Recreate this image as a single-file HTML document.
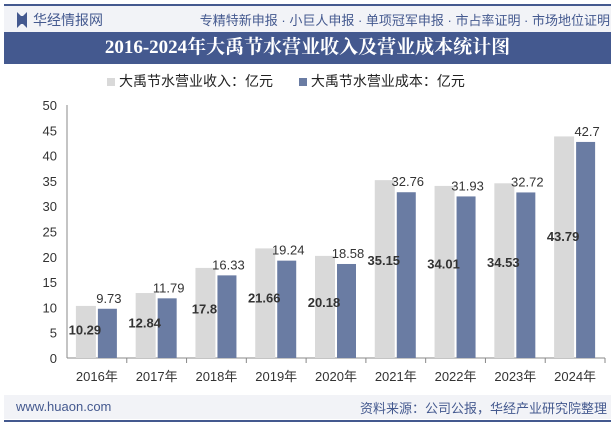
<!DOCTYPE html>
<html><head><meta charset="utf-8"><style>
body{margin:0;width:615px;height:427px;background:#fff;font-family:"Liberation Sans","Noto Sans CJK SC",sans-serif;overflow:hidden;position:relative}
.abs{position:absolute}
</style></head><body>
<div class="abs" style="left:4px;top:4px;width:607px;height:2px;background:#44598f"></div>
<div class="abs" style="left:4px;top:6px;width:607px;height:26px;background:#f2f3f7"></div>
<div class="abs" style="left:17px;top:12px;width:10px;height:16px;background:#44598f;clip-path:polygon(0 0,40% 25%,60% 25%,100% 0,100% 100%,60% 75%,40% 75%,0 100%)"></div>
<div class="abs" style="left:33px;top:10px;font-size:14px;color:#44598f">华经情报网</div>
<div class="abs" style="right:5px;top:10px;font-size:13px;color:#44598f">专精特新申报 · 小巨人申报 · 单项冠军申报 · 市占率证明 · 市场地位证明</div>
<div class="abs" style="left:4px;top:32px;width:607px;height:32px;background:#44598f;color:#fff;font-family:'Liberation Serif','Noto Serif CJK SC',serif;font-weight:bold;font-size:19px;text-align:center;line-height:32px" >2016-2024年大禹节水营业收入及营业成本统计图</div>
<div class="abs" style="left:107px;top:71px;font-size:14px;color:#222;white-space:nowrap">
<span><span style="display:inline-block;width:8px;height:8px;background:#d9d9d9;margin-right:4px"></span>大禹节水营业收入：亿元</span>
<span style="margin-left:22px"><span style="display:inline-block;width:8px;height:8px;background:#6a7ca3;margin-right:4px"></span>大禹节水营业成本：亿元</span>
</div>
<svg class="abs" style="left:0;top:0" width="615" height="427" id="chart"></svg>
<div class="abs" style="left:4px;top:395px;width:607px;height:24px;background:#f2f3f7"></div>
<div class="abs" style="left:16px;top:399px;font-size:13px;color:#44598f">www.huaon.com</div>
<div class="abs" style="right:8px;top:398px;font-size:13px;color:#44598f">资料来源：公司公报，华经产业研究院整理</div>
<div class="abs" style="left:4px;top:420px;width:607px;height:2px;background:#44598f"></div>
<script>
const categories=["2016年","2017年","2018年","2019年","2020年","2021年","2022年","2023年","2024年"];
const revenue=[10.29,12.84,17.8,21.66,20.18,35.15,34.01,34.53,43.79];
const cost=[9.73,11.79,16.33,19.24,18.58,32.76,31.93,32.72,42.7];
const yTicks=[0,5,10,15,20,25,30,35,40,45,50];
const svg=document.getElementById('chart');const NS='http://www.w3.org/2000/svg';
const X0=67,X1=605,Y0=358,Y50=105;
const y=v=>Y0-(v/50)*(Y0-Y50);
const bw=(X1-X0)/categories.length;
function mk(t,a,txt){const e=document.createElementNS(NS,t);for(const k in a)e.setAttribute(k,a[k]);if(txt!==undefined)e.textContent=txt;svg.appendChild(e);return e;}
yTicks.forEach(t=>{const e=mk('text',{x:57,y:y(t)+5,'text-anchor':'end','font-size':13,fill:'#333'},t);

});
const ax=mk('line',{x1:X0,x2:X1,y1:Y0,y2:Y0,stroke:'#888'});


const yax=mk('line',{x1:X0,x2:X0,y1:Y50,y2:Y0,stroke:'#888'});


categories.forEach((c,i)=>{
 const cx=X0+bw*(i+0.5);
 const r=mk('rect',{x:cx-21,y:y(revenue[i]),width:20,height:Y0-y(revenue[i]),fill:'#d9d9d9'});
 
 
 const b=mk('rect',{x:cx+1,y:y(cost[i]),width:19,height:Y0-y(cost[i]),fill:'#6a7ca3'});
 
 
 const ly=y(revenue[i])+(Y0-y(revenue[i]))*0.45;
 const l1=mk('text',{x:cx-12,y:ly+5,'text-anchor':'middle','font-size':13,'font-weight':'bold',fill:'#333'},revenue[i]);
 
 
 const l2=mk('text',{x:cx+12,y:y(cost[i])-6,'text-anchor':'middle','font-size':13,fill:'#333'},cost[i]);
 
 
 const xl=mk('text',{x:cx,y:381,'text-anchor':'middle','font-size':13,fill:'#333'},c);
 
 
 const tk=mk('line',{x1:X0+bw*(i+1),x2:X0+bw*(i+1),y1:Y0,y2:Y0+5,stroke:'#888'});
 
 
});
</script>
</body></html>
